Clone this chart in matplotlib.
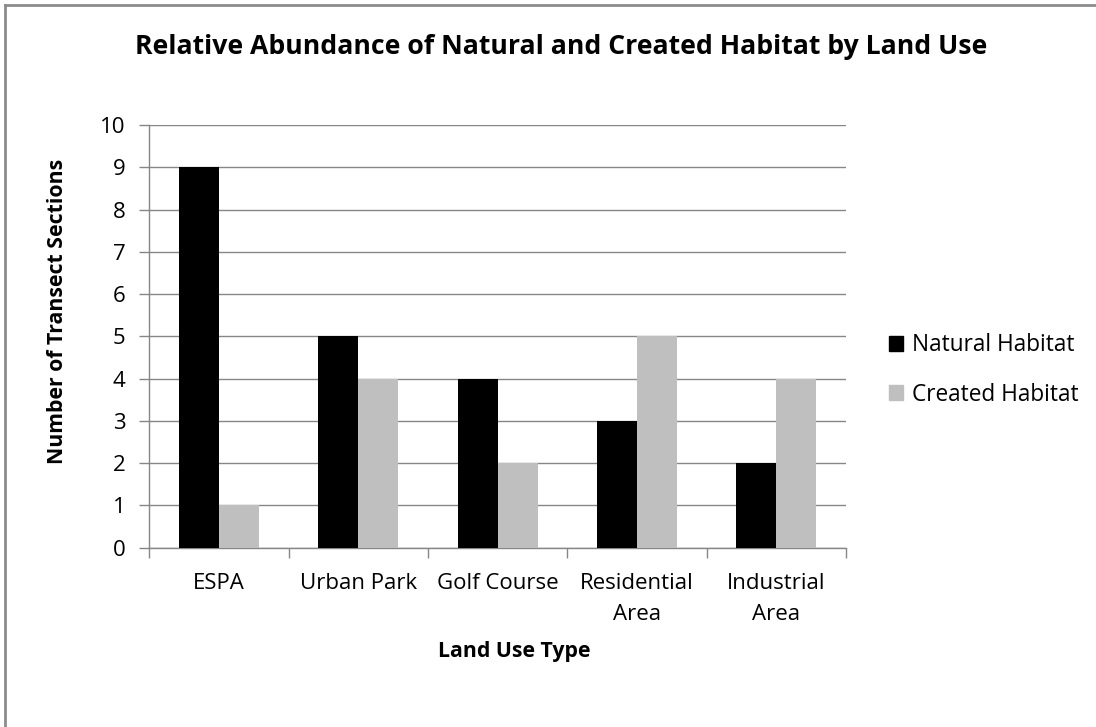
import matplotlib
matplotlib.use("Agg")
import matplotlib.pyplot as plt
from matplotlib.lines import Line2D
import numpy as np

# Data
land_use = ["ESPA", "Urban Park", "Golf Course", "Residential\nArea", "Industrial\nArea"]
natural = [9, 5, 4, 3, 2]
created = [1, 4, 2, 5, 4]
y_ticks = list(range(0, 11))

plt.rcParams["font.family"] = ["Open Sans", "DejaVu Sans"]

W, H = 1096, 727
fig = plt.figure(figsize=(W / 100, H / 100), dpi=100)
fig.patch.set_facecolor("white")

left, right, top, bottom = 149.3, 846, 125, 547.7
ax = fig.add_axes([left / W, 1 - bottom / H, (right - left) / W, (bottom - top) / H])

grid_col = "#868686"
x = np.arange(len(land_use))
bw = 0.287
ax.bar(x - bw / 2, natural, bw, color="black", label="Natural Habitat", zorder=3)
ax.bar(x + bw / 2, created, bw, color="#bfbfbf", label="Created Habitat", zorder=3)

ax.set_xlim(-0.5, len(land_use) - 0.5)
ax.set_ylim(0, 10)
ax.set_yticks(y_ticks)
ax.yaxis.grid(True, color=grid_col, linewidth=1.0, zorder=0)
ax.set_axisbelow(True)

# category boundaries carry the tick marks, centres carry the labels
ax.set_xticks(np.arange(-0.5, len(land_use), 1.0))
ax.set_xticklabels([])
ax.set_xticks(x, minor=True)
ax.set_xticklabels(land_use, minor=True, fontsize=16, linespacing=1.62, va="top")
ax.tick_params(axis="x", which="minor", length=0, pad=18.5)
ax.tick_params(axis="x", which="major", length=7, color=grid_col, width=1)
ax.tick_params(axis="y", length=7, color=grid_col, width=1, labelsize=16, pad=10)

for s in ["top", "right"]:
    ax.spines[s].set_visible(False)
for s in ["left", "bottom"]:
    ax.spines[s].set_color(grid_col)
    ax.spines[s].set_linewidth(1.0)

fig.text(561 / W, 1 - 47 / H, "Relative Abundance of Natural and Created Habitat by Land Use",
         ha="center", va="center", fontsize=19.2, fontweight="bold")
fig.text(58 / W, 1 - 311 / H, "Number of Transect Sections", rotation=90,
         ha="center", va="center", fontsize=15.3, fontweight="bold")
fig.text(514 / W, 1 - 651 / H, "Land Use Type", ha="center", va="center",
         fontsize=15.3, fontweight="bold")

handles = [plt.Rectangle((0, 0), 1, 1, color="black"),
           plt.Rectangle((0, 0), 1, 1, color="#bfbfbf")]
fig.legend(handles, ["Natural Habitat", "Created Habitat"], loc="center left",
           bbox_to_anchor=(871 / W, 1 - 370 / H), frameon=False, fontsize=16.3,
           handlelength=0.62, handleheight=0.62, handletextpad=0.4, labelspacing=1.12,
           borderpad=0.3)

# chart frame edges
fig.add_artist(Line2D([5 / W, 5 / W], [0, 1 - 5 / H], color="#8c8c8c", linewidth=2,
                      transform=fig.transFigure))
fig.add_artist(Line2D([5 / W, 1], [1 - 5 / H, 1 - 5 / H], color="#8c8c8c", linewidth=2,
                      transform=fig.transFigure))

fig.savefig("out.png", dpi=100, facecolor="white")
